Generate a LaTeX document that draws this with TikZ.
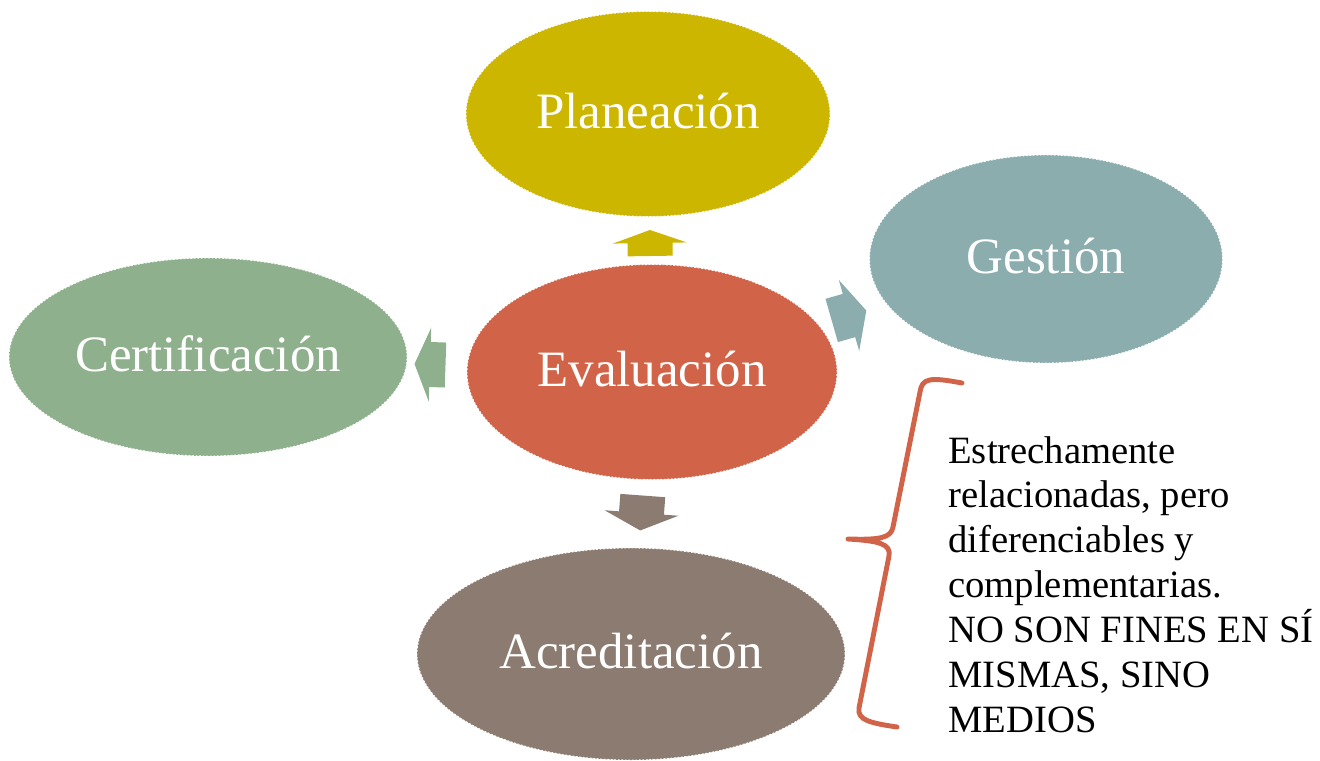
\documentclass[tikz,border=0pt]{standalone}
\usepackage{fontspec}
\setmainfont{Liberation Serif}
\usepackage{tikz}
\usetikzlibrary{calc,shapes.geometric}
\definecolor{planc}{HTML}{CDB600}
\definecolor{gestc}{HTML}{8BADAE}
\definecolor{certc}{HTML}{8FB08D}
\definecolor{evalc}{HTML}{D16349}
\definecolor{acrec}{HTML}{8C7B70}
\tikzset{bubble/.style={ellipse, fill=#1, draw=white, line width=0.5pt, dash pattern=on 1pt off 1pt,
	inner sep=0pt, outer sep=0pt, text=white, font=\fontsize{29}{35}\selectfont, text height=16pt, text depth=0pt},
	size/.style 2 args={minimum width=#1*0.02cm, minimum height=#2*0.02cm}}
\def\blockarrow[#1](#2)(#3:#4){\path let \p1=($(#3)-(#2)$), \n1={atan2(\y1,\x1)} in \pgfextra{\xdef\arrang{\n1}};
	\begin{scope}[shift={($(#2)!0.5!(#3)$)}, rotate=\arrang]
	\fill[#1] ({-#4/2},-22.5) -- (0,-22.5) -- (0,-37) -- ({#4/2},0) -- (0,37) -- (0,22.5) -- ({-#4/2},22.5) -- cycle;
	\end{scope}}

\begin{document}
\begin{tikzpicture}[x=0.02cm, y=-0.02cm]
				\useasboundingbox (0,0) rectangle (1320,761);
				
				\node[bubble=planc, size={364}{205}] (plan) at (648,114) {Planeación};
				\node[bubble=gestc, size={353}{208}] (gest) at (1046,259) {Gestión};
				\node[bubble=certc, size={398}{198}] (cert) at (208,357) {Certificación};
				\node[bubble=evalc, size={370}{215}] (eval) at (652,372) {Evaluación};
				\node[bubble=acrec, size={428}{212}] (acre) at (631,654) {Acreditación};
				
				\blockarrow[planc](eval)(plan:26)
				\blockarrow[certc](eval)(cert:31)
				\blockarrow[gestc](eval)(gest:36)
				\blockarrow[acrec](eval)(acre:35)
				
				\draw[evalc, line width=2.8pt, line cap=round, line join=round]
					(962,383) .. controls (930,377) and (922,378) .. (920,392) -- (893,527)
					.. controls (891,538) and (880,540) .. (848,539)
					.. controls (880,541) and (891,544) .. (889,556) -- (859,708)
					.. controls (857,720) and (870,723) .. (897,727);
				
				\node[anchor=base west, align=left, inner sep=0pt, font=\fontsize{22}{25.5}\selectfont] (note) at (948,732)
					{Estrechamente\\ relacionadas, pero\\ diferenciables y\\ complementarias.\\ NO SON FINES EN SÍ\\ MISMAS, SINO\\ MEDIOS};
			\end{tikzpicture}
\end{document}
